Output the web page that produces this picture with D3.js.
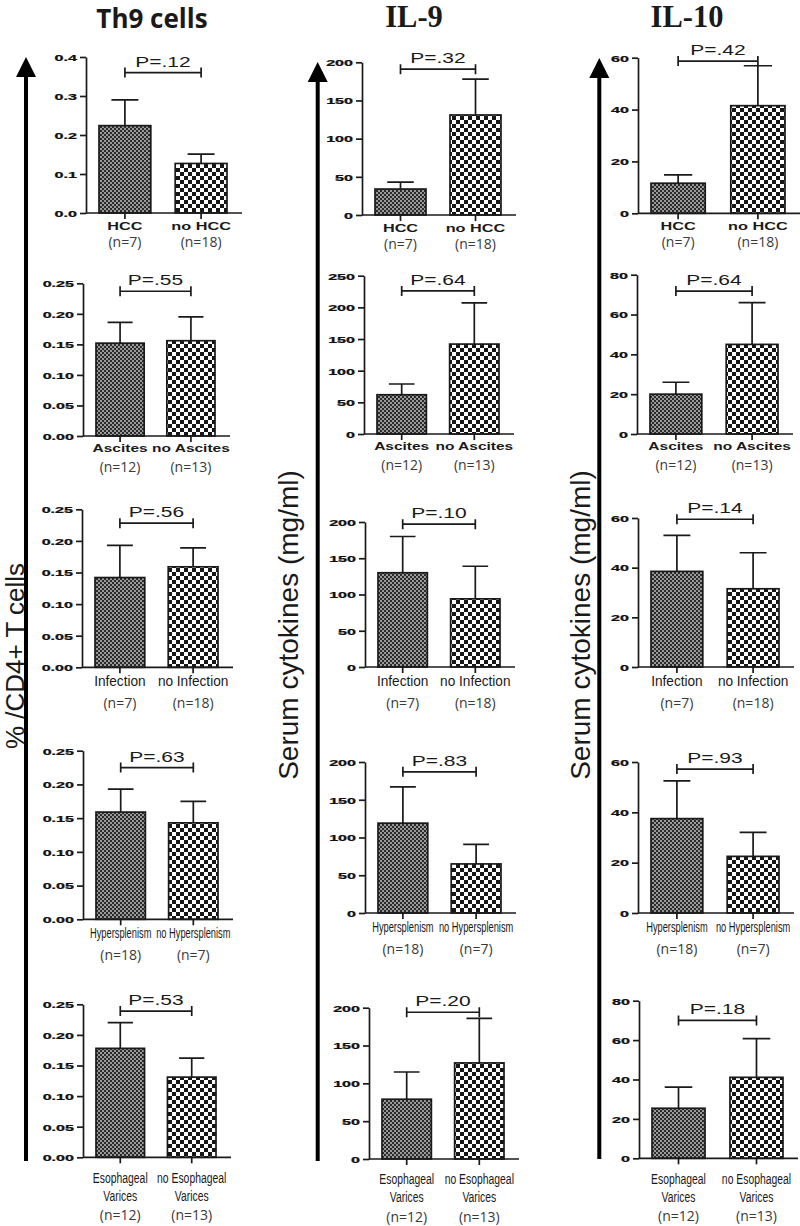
<!DOCTYPE html>
<html><head><meta charset="utf-8">
<script src="https://cdn.jsdelivr.net/npm/d3@7"></script>
<style>body{margin:0;background:#fff}svg{display:block}</style>
</head><body>
<script>
// ---------------- DATA ----------------
const columnTitles = ["Th9 cells", "IL-9", "IL-10"];
const yTitles = ["% /CD4+ T cells", "Serum cytokines (mg/ml)", "Serum cytokines (mg/ml)"];
const categories = [
  ["HCC", "no HCC"],
  ["Ascites", "no Ascites"],
  ["Infection", "no Infection"],
  ["Hypersplenism", "no Hypersplenism"],
  ["Esophageal\nVarices", "no Esophageal\nVarices"]
];
const groupSizes = [
  ["(n=7)", "(n=18)"],
  ["(n=12)", "(n=13)"],
  ["(n=7)", "(n=18)"],
  ["(n=18)", "(n=7)"],
  ["(n=12)", "(n=13)"]
];
const th9Mean = [[0.224, 0.127], [0.152, 0.156], [0.142, 0.159], [0.159, 0.143], [0.178, 0.131]];
const th9Sem  = [[0.066, 0.024], [0.034, 0.039], [0.051, 0.030], [0.034, 0.032], [0.042, 0.031]];
const il9Mean = [[34, 131], [62, 142], [130, 94], [119, 65], [79, 127]];
const il9Sem  = [[9, 47], [17, 65], [50, 45], [48, 26], [36, 59]];
const il10Mean = [[11.6, 41.5], [20, 45], [38.5, 31.5], [37.5, 22.5], [25.4, 41.1]];
const il10Sem  = [[3.2, 15.4], [6, 21], [14.5, 14.5], [15, 9.5], [10.7, 19.6]];
const th9Ticks = [[0, 0.1, 0.2, 0.3, 0.4], [0, 0.05, 0.1, 0.15, 0.2, 0.25], [0, 0.05, 0.1, 0.15, 0.2, 0.25], [0, 0.05, 0.1, 0.15, 0.2, 0.25], [0, 0.05, 0.1, 0.15, 0.2, 0.25]];
const il9Ticks = [[0, 50, 100, 150, 200], [0, 50, 100, 150, 200, 250], [0, 50, 100, 150, 200], [0, 50, 100, 150, 200], [0, 50, 100, 150, 200]];
const il10Ticks = [[0, 20, 40, 60], [0, 20, 40, 60, 80], [0, 20, 40, 60], [0, 20, 40, 60], [0, 20, 40, 60, 80]];
const th9TickFormat = [".1f", ".2f", ".2f", ".2f", ".2f"];
const th9P = [".12", ".55", ".56", ".63", ".53"];
const il9P = [".32", ".64", ".10", ".83", ".20"];
const il10P = [".42", ".64", ".14", ".93", ".18"];
const th9Bracket = [0.36, 0.237, 0.228, 0.225, 0.239];
const il9Bracket = [191, 226, 197, 187, 194];
const il10Bracket = [58.7, 71.8, 59.5, 57.2, 70];

// ---------------- LAYOUT ----------------
const W = 800, H = 1226;
const layout = {
  axisX: [[86, 83, 82, 83, 83], [362, 364, 365, 365, 369], [638, 637, 638, 638, 639]],
  plotW: [[141, 132, 136, 135, 133], [139, 135, 135, 136, 135], [147, 141, 141, 141, 144]],
  yTop: [[57, 283.3, 509.3, 750.7, 1004.3], [62.3, 275.7, 522, 762, 1007.7], [57.7, 274.7, 518, 762, 1000.7]],
  yBot: [[213, 436, 667.3, 919.3, 1157.3], [215, 434, 667, 913, 1159], [213.3, 434, 667, 913, 1158.3]],
  arrowX: [26, 317.7, 599.3], arrowTip: [57, 62, 58], arrowBot: [1161, 1161, 1159],
  titleX: [152, 414, 687],
  yTitleX: [24, 298, 590], yTitleY: [656, 625, 625]
};
// category label styles per row
const rowLabel = [
  {bold: true, size: 10.5, sx: 1.55, cat: [17], n: 34},
  {bold: true, size: 10, sx: 1.55, cat: [16], n: 36},
  {bold: false, size: 15.5, sx: 0.88, cat: [19], n: 41},
  {bold: false, size: 15.5, sx: 0.6, cat: [19], n: 41},
  {bold: false, size: 15.5, sx: 0.67, cat: [25.4, 43.4], n: 63}
];

const cols = [
  {mean: th9Mean, sem: th9Sem, ticks: th9Ticks, fmt: r => th9TickFormat[r], p: th9P, br: th9Bracket},
  {mean: il9Mean, sem: il9Sem, ticks: il9Ticks, fmt: r => "d", p: il9P, br: il9Bracket},
  {mean: il10Mean, sem: il10Sem, ticks: il10Ticks, fmt: r => "d", p: il10P, br: il10Bracket}
];

const svg = d3.select("body").append("svg").attr("width", W).attr("height", H);
const defs = svg.append("defs");
// fine checker
const pf = defs.append("pattern").attr("id", "fine").attr("patternUnits", "userSpaceOnUse").attr("width", 4).attr("height", 4);
pf.append("rect").attr("width", 4).attr("height", 4).attr("fill", "#2a2a2a");
pf.append("rect").attr("width", 2).attr("height", 2).attr("fill", "#9a9a9a");
pf.append("rect").attr("x", 2).attr("y", 2).attr("width", 2).attr("height", 2).attr("fill", "#9a9a9a");
// coarse checker
const pc = defs.append("pattern").attr("id", "coarse").attr("patternUnits", "userSpaceOnUse").attr("width", 8).attr("height", 8);
pc.append("rect").attr("width", 8).attr("height", 8).attr("fill", "#fff");
pc.append("rect").attr("width", 4).attr("height", 4).attr("fill", "#161616");
pc.append("rect").attr("x", 4).attr("y", 4).attr("width", 4).attr("height", 4).attr("fill", "#161616");

const ink = "#1a1a1a";

// titles
svg.append("text").attr("x", layout.titleX[0]).attr("y", 28).attr("text-anchor", "middle")
  .attr("font-family", "'Open Sans', sans-serif").attr("font-weight", "bold").attr("font-size", 26).attr("fill", ink).text(columnTitles[0]);
[1, 2].forEach(c => svg.append("text").attr("x", layout.titleX[c]).attr("y", 27).attr("text-anchor", "middle")
  .attr("font-family", "'Liberation Serif', serif").attr("font-weight", "bold").attr("font-size", 30.5).attr("fill", ink).text(columnTitles[c]));

// big arrows + y titles
[0, 1, 2].forEach(c => {
  const x = layout.arrowX[c], tip = layout.arrowTip[c];
  svg.append("line").attr("x1", x).attr("x2", x).attr("y1", layout.arrowBot[c]).attr("y2", tip + 15)
    .attr("stroke", "#000").attr("stroke-width", 4);
  svg.append("path").attr("d", `M${x - 10},${tip + 20}L${x + 10},${tip + 20}L${x},${tip}Z`).attr("fill", "#000");
  svg.append("text").attr("transform", `translate(${layout.yTitleX[c]},${layout.yTitleY[c]}) rotate(-90)`)
    .attr("text-anchor", "middle").attr("font-family", "'Liberation Sans', Arial, sans-serif")
    .attr("font-size", c === 0 ? 26 : 28).attr("fill", ink).text(yTitles[c]);
});

// panels
cols.forEach((col, c) => {
  categories.forEach((cats, r) => {
    const ax = layout.axisX[c][r], pw = layout.plotW[c][r];
    const y0 = layout.yBot[c][r], y1 = layout.yTop[c][r];
    const ticks = col.ticks[r];
    const y = d3.scaleLinear().domain([0, d3.max(ticks)]).range([y0, y1]);
    const x = d3.scaleBand().domain(cats).range([ax + 13, ax + pw]).paddingInner(0.32);
    const g = svg.append("g");

    const data = cats.map((k, i) => ({k, m: col.mean[r][i], e: col.sem[r][i], i}));
    // bars
    g.selectAll("rect.bar").data(data).join("rect").attr("class", "bar")
      .attr("x", d => x(d.k)).attr("width", x.bandwidth())
      .attr("y", d => y(d.m)).attr("height", d => y0 - y(d.m))
      .attr("fill", d => d.i === 0 ? "url(#fine)" : "url(#coarse)")
      .attr("stroke", ink).attr("stroke-width", 1.7);
    // error bars
    const cap = x.bandwidth() * 0.26;
    g.selectAll("path.err").data(data).join("path").attr("class", "err")
      .attr("d", d => {
        const cx = x(d.k) + x.bandwidth() / 2;
        return `M${cx},${y(d.m)}V${y(d.m + d.e)}M${cx - cap},${y(d.m + d.e)}H${cx + cap}`;
      }).attr("stroke", ink).attr("stroke-width", 1.7).attr("fill", "none");

    // y axis
    const yAxis = d3.axisLeft(y).tickValues(ticks).tickFormat(d3.format(col.fmt(r))).tickSize(6).tickSizeOuter(0);
    const ga = g.append("g").attr("transform", `translate(${ax},0)`).call(yAxis);
    ga.select(".domain").attr("stroke", ink).attr("stroke-width", 1.7);
    ga.selectAll(".tick line").attr("stroke", ink).attr("stroke-width", 1.7);
    ga.selectAll(".tick text").attr("x", 0).attr("dy", "0.36em")
      .attr("transform", "translate(-9,0) scale(1.75,1)")
      .attr("font-family", "'Liberation Sans', Arial, sans-serif").attr("font-weight", "bold")
      .attr("font-size", 9.2).attr("fill", "#111").attr("stroke", "#111").attr("stroke-width", 0.25)
      .attr("text-anchor", "end");

    // x axis
    g.append("line").attr("x1", ax).attr("x2", ax + pw + 15).attr("y1", y0).attr("y2", y0)
      .attr("stroke", ink).attr("stroke-width", 1.7);
    g.selectAll("line.xt").data(data).join("line").attr("class", "xt")
      .attr("x1", d => x(d.k) + x.bandwidth() / 2).attr("x2", d => x(d.k) + x.bandwidth() / 2)
      .attr("y1", y0).attr("y2", y0 + 6).attr("stroke", ink).attr("stroke-width", 1.7);

    // category labels
    const st = rowLabel[r];
    data.forEach(d => {
      const cx = x(d.k) + x.bandwidth() / 2;
      d.k.split("\n").forEach((line, li) => {
        g.append("text").attr("transform", `translate(${cx},${y0 + st.cat[li]}) scale(${st.sx},1)`)
          .attr("text-anchor", "middle").attr("font-family", "'Liberation Sans', Arial, sans-serif")
          .attr("font-weight", st.bold ? "bold" : "normal").attr("font-size", st.size).attr("fill", ink).text(line);
      });
      g.append("text").attr("x", cx).attr("y", y0 + st.n).attr("text-anchor", "middle")
        .attr("font-family", "'Open Sans', sans-serif").attr("font-size", 14).attr("fill", "#3a3a3a")
        .text(groupSizes[r][d.i]);
    });

    // p-value bracket
    const bx1 = x(cats[0]) + x.bandwidth() / 2, bx2 = x(cats[1]) + x.bandwidth() / 2, by = y(col.br[r]);
    g.append("path").attr("d", `M${bx1},${by - 5}V${by + 5}M${bx1},${by}H${bx2}M${bx2},${by - 5}V${by + 5}`)
      .attr("stroke", ink).attr("stroke-width", 1.7).attr("fill", "none");
    g.append("text").attr("transform", `translate(${(bx1 + bx2) / 2},${by - 6}) scale(1.5,1)`)
      .attr("text-anchor", "middle").attr("font-family", "'Liberation Sans', Arial, sans-serif")
      .attr("font-size", 14).attr("fill", ink).text("P=" + col.p[r]);
  });
});
</script>
</body></html>
